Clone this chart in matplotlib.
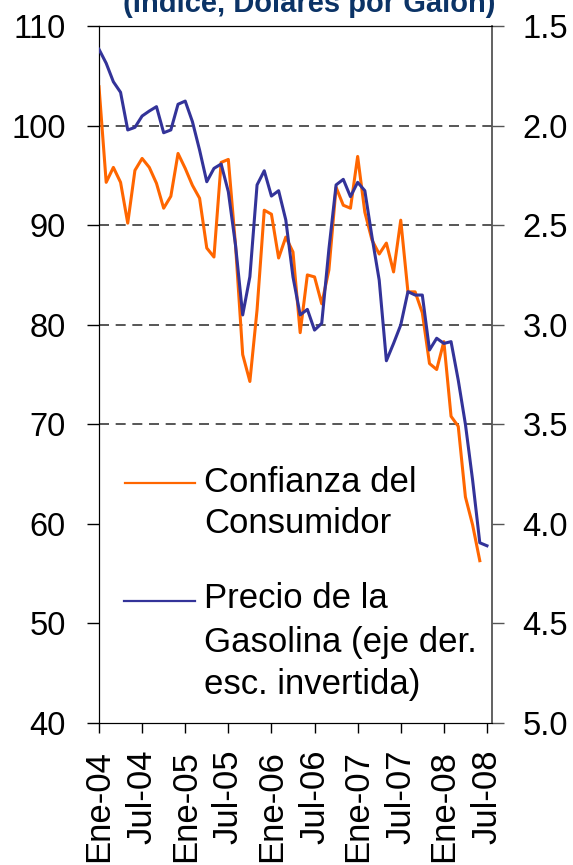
"""
Confianza del consumidor vs precio de la gasolina (eje derecho invertido)
"""

import matplotlib.pyplot as plt
from matplotlib.lines import Line2D

plt.rcParams['font.family'] = ['Liberation Sans', 'DejaVu Sans']

# data, monthly from Ene-04
confianza = [103.9, 94.3, 95.8, 94.3, 90.2, 95.5, 96.7, 95.8, 94.2, 91.7, 92.9, 97.2,
             95.7, 94.0, 92.7, 87.7, 86.8, 96.3, 96.6, 88.0, 77.0, 74.3, 81.5, 91.5,
             91.1, 86.7, 88.8, 87.3, 79.2, 85.0, 84.8, 82.1, 85.5, 93.8, 92.0, 91.7,
             96.9, 91.3, 88.5, 87.1, 88.2, 85.3, 90.5, 83.3, 83.3, 81.2, 76.1, 75.5,
             78.3, 70.8, 69.8, 62.7, 59.9, 56.3]
gasolina = [1.617, 1.687, 1.780, 1.833, 2.022, 2.009, 1.952, 1.927, 1.905, 2.036, 2.022, 1.893,
            1.877, 1.980, 2.123, 2.282, 2.215, 2.193, 2.332, 2.600, 2.951, 2.759, 2.298, 2.227,
            2.354, 2.327, 2.474, 2.760, 2.951, 2.923, 3.027, 2.993, 2.620, 2.298, 2.270, 2.357,
            2.285, 2.327, 2.560, 2.776, 3.181, 3.094, 3.001, 2.834, 2.851, 2.851, 3.127, 3.068,
            3.094, 3.085, 3.278, 3.500, 3.780, 4.095, 4.110]
xlabels = ['Ene-04', 'Jul-04', 'Ene-05', 'Jul-05', 'Ene-06', 'Jul-06',
           'Ene-07', 'Jul-07', 'Ene-08', 'Jul-08']
left_ticks = [40, 50, 60, 70, 80, 90, 100, 110]
right_ticks = [1.5, 2.0, 2.5, 3.0, 3.5, 4.0, 4.5, 5.0]
grid_vals = [70, 80, 90, 100]

orange = '#FF6600'
blue = '#333399'

W, H = 573, 865
fig = plt.figure(figsize=(W / 100, H / 100), dpi=100)
ax = fig.add_axes([99 / W, 1 - 723 / H, 393 / W, 697 / H])
ax2 = ax.twinx()

for g in grid_vals:
    ax.axhline(g, color='#3a3a3a', lw=1.2, dashes=(6, 4), zorder=1)

ax.plot(range(len(confianza)), confianza, color=orange, lw=2.2, zorder=3)
ax2.plot(range(len(gasolina)), gasolina, color=blue, lw=2.2, zorder=3)

ax.set_xlim(0, 54.7)
ax.set_ylim(40, 110)
ax2.set_ylim(5.0, 1.5)

ax.set_yticks(left_ticks)
ax.set_yticklabels([str(v) for v in left_ticks])
ax2.set_yticks(right_ticks)
ax2.set_yticklabels(['%.1f' % v for v in right_ticks])
ax.set_xticks(range(0, 55, 6))
ax.set_xticklabels(xlabels, rotation=90)

ax.tick_params(axis='y', direction='out', length=8.6, width=1, labelsize=23.5, pad=15.5)
ax2.tick_params(axis='y', direction='out', length=8.6, width=1, labelsize=23.5, pad=13.5,
                color='#555555')
ax.tick_params(axis='x', direction='out', length=7.2, width=1, labelsize=25, pad=12)

for s in ['left', 'top', 'bottom']:
    ax.spines[s].set_color('black')
ax.spines['right'].set_visible(False)
ax2.spines['right'].set_color('#555555')
ax2.spines['right'].set_linewidth(1.3)

# legend, drawn by hand so the line sits on the first text line
def px(x, y):
    return x / W, 1 - y / H

fig.add_artist(Line2D([125 / W, 195 / W], [1 - 482.7 / H] * 2, color=orange, lw=1.6))
fig.add_artist(Line2D([124 / W, 195 / W], [1 - 600.7 / H] * 2, color=blue, lw=1.6))
leg_lines = [('Confianza del', 491.7), ('Consumidor', 533.3),
             ('Precio de la', 608.3), ('Gasolina (eje der.', 651.7),
             ('esc. invertida)', 694.0)]
for txt, yb in leg_lines:
    fig.text(*px(204, yb), txt, fontsize=25, va='baseline', ha='left')

# title is cut at the top edge, as in the source image
fig.text(*px(309, 12), '(Índice, Dólares por Galón)', fontsize=21, fontweight='bold',
         color='#0B3366', ha='center', va='baseline')

plt.savefig('out.png', dpi=100)
